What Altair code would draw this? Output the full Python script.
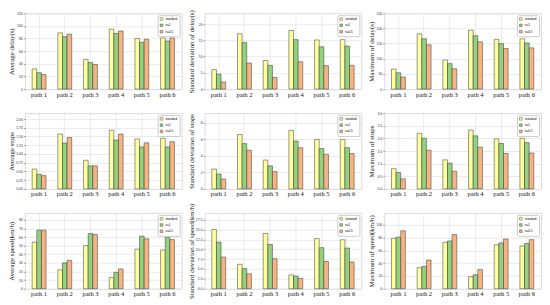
import altair as alt
import pandas as pd

paths = ["path 1", "path 2", "path 3", "path 4", "path 5", "path 6"]
methods = ["standard", "n=1", "n=0.5"]
colors = ["#FFFF9E", "#93D17E", "#F6B482"]

avg_delay = {"standard": [32, 89, 47, 95, 80, 81],
             "n=1": [26, 83, 42, 88, 74, 76],
             "n=0.5": [23, 87, 39, 92, 79, 81]}
std_delay = {"standard": [6.0, 17.0, 8.8, 18.0, 15.1, 15.2],
             "n=1": [4.6, 14.3, 7.3, 15.2, 13.0, 13.2],
             "n=0.5": [2.2, 8.0, 3.6, 8.4, 7.2, 7.3]}
max_delay = {"standard": [66, 182, 96, 194, 164, 166],
             "n=1": [54, 166, 84, 176, 150, 152],
             "n=0.5": [40, 146, 67, 156, 134, 136]}
avg_stops = {"standard": [0.57, 1.57, 0.82, 1.68, 1.43, 1.45],
             "n=1": [0.42, 1.31, 0.66, 1.40, 1.20, 1.20],
             "n=0.5": [0.38, 1.47, 0.66, 1.57, 1.32, 1.35]}
std_stops = {"standard": [2.4, 6.6, 3.5, 7.1, 6.0, 6.0],
             "n=1": [1.8, 5.5, 2.8, 5.8, 4.9, 5.0],
             "n=0.5": [1.2, 4.7, 2.1, 5.0, 4.2, 4.3]}
max_stops = {"standard": [0.80, 2.20, 1.15, 2.33, 1.98, 2.00],
             "n=1": [0.65, 2.00, 1.02, 2.10, 1.80, 1.83],
             "n=0.5": [0.40, 1.53, 0.70, 1.65, 1.40, 1.42]}
avg_speed = {"standard": [54, 22, 50, 13, 46, 45],
             "n=1": [68, 30, 64, 19, 61, 60],
             "n=0.5": [68, 33, 63, 23, 58, 57]}
std_speed = {"standard": [15.0, 6.2, 14.0, 3.5, 12.7, 12.4],
             "n=1": [11.8, 5.1, 11.2, 3.2, 10.4, 10.3],
             "n=0.5": [8.0, 3.8, 7.6, 2.6, 6.9, 6.8]}
max_speed = {"standard": [79, 33, 73, 19, 69, 67],
             "n=1": [81, 35, 75, 22, 72, 71],
             "n=0.5": [91, 45, 85, 30, 78, 77]}

panels = [
    (avg_delay, "Average delay(s)", 120, [0, 20, 40, 60, 80, 100, 120], "d"),
    (std_delay, "Standard deviation of delay(s)", 23.3, [0, 5, 10, 15, 20], "d"),
    (max_delay, "Maximum of delay(s)", 250, [0, 50, 100, 150, 200, 250], "d"),
    (avg_stops, "Average stops", 2.17, [0, 0.25, 0.5, 0.75, 1.0, 1.25, 1.5, 1.75, 2.0], ".2f"),
    (std_stops, "Standard deviation of stops", 9.2, [0, 2, 4, 6, 8], "d"),
    (max_stops, "Maximum of stops", 3.0, [0, 0.5, 1.0, 1.5, 2.0, 2.5, 3.0], ".1f"),
    (avg_speed, "Average speed(km/h)", 88, [0, 10, 20, 30, 40, 50, 60, 70, 80], "d"),
    (std_speed, "Standard deviation of speed(km/h)", 19.2, [0, 2.5, 5, 7.5, 10, 12.5, 15, 17.5], ".1f"),
    (max_speed, "Maximum of speed(km/h)", 119, [0, 20, 40, 60, 80, 100], "d"),
]

SERIF = "Liberation Serif"


def panel(data, title, top, ticks, fmt):
    rows = []
    for m in methods:
        for p, v in zip(paths, data[m]):
            rows.append({"path": p, "method": m, "value": v})
    df = pd.DataFrame(rows)
    return alt.Chart(df).mark_bar(stroke="#333333", strokeWidth=0.5).encode(
        x=alt.X("path:N", sort=paths, title=None,
                scale=alt.Scale(paddingInner=0.46, paddingOuter=0.28),
                axis=alt.Axis(labelAngle=0, grid=True, bandPosition=0.5,
                              gridColor="#dddddd", gridWidth=0.6,
                              labelFont=SERIF, labelFontSize=6.5, labelColor="#111",
                              ticks=False, domain=False, labelPadding=2,
                              minExtent=8, maxExtent=8)),
        xOffset=alt.XOffset("method:N", sort=methods, scale=alt.Scale(paddingInner=0.0)),
        y=alt.Y("value:Q", title=title,
                scale=alt.Scale(domain=[0, top], nice=False, zero=True),
                axis=alt.Axis(values=ticks, format=fmt, grid=True,
                              gridColor="#dddddd", gridWidth=0.6,
                              labelFontSize=3.5, labelColor="#333", tickSize=1.5,
                              tickColor="#333", tickWidth=0.5, labelPadding=1,
                              domain=False, minExtent=8, maxExtent=8,
                              titleFont=SERIF, titleFontSize=6.9,
                              titleFontWeight="normal", titleColor="#111",
                              titlePadding=2)),
        color=alt.Color("method:N", sort=methods,
                        scale=alt.Scale(domain=methods, range=colors),
                        legend=alt.Legend(title=None, orient="top-right",
                                          labelFontSize=3, symbolType="square",
                                          symbolSize=7, symbolStrokeColor="#333",
                                          symbolStrokeWidth=0.4, rowPadding=0.3,
                                          padding=1.8, offset=2, strokeColor="#cccccc",
                                          fillColor="white", cornerRadius=1,
                                          labelOffset=2, symbolOffset=0,
                                          labelLimit=40)),
    ).properties(width=157, height=76)


charts = [panel(*p) for p in panels]

chart = alt.concat(*charts, columns=3, spacing={"row": 24, "column": 23},
                   bounds="flush").resolve_scale(
    color="independent", y="independent", x="independent"
).resolve_legend(color="independent").properties(
    padding={"left": -1, "top": 0, "right": 0, "bottom": 0}
).configure_view(stroke="#999999", strokeWidth=0.7).configure(background="white")

chart.save("out.html", embed_options={"renderer": "svg", "actions": False})
